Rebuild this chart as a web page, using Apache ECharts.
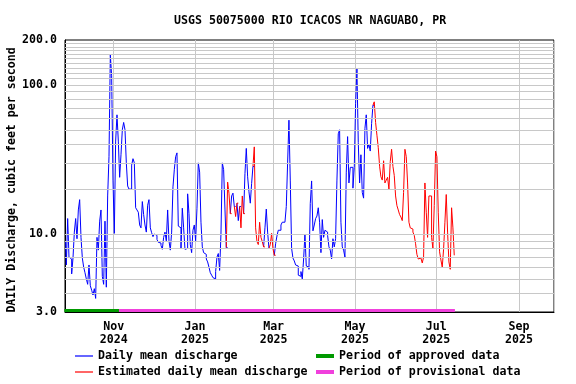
<!DOCTYPE html>
<html><head><meta charset="utf-8">
<script src="https://cdn.jsdelivr.net/npm/echarts@6/dist/echarts.min.js"></script>
<style>html,body{margin:0;padding:0;background:#fff}#c{width:576px;height:384px}</style>
</head><body><div id="c"></div>
<script>
const titleText = 'USGS 50075000 RIO ICACOS NR NAGUABO, PR';
const yAxisTitle = 'DAILY Discharge, cubic feet per second';
const startDate = [2024, 8, 26]; // first daily value: 2024-09-26
const discharge = [
 9.0,6.2,12.7,7.0,6.8,5.4,6.9,10.3,12.7,9.3,
 14.5,17.0,9.5,6.9,6.0,5.5,5.0,4.6,6.2,4.5,
 4.2,3.9,4.3,3.7,9.5,7.8,12.2,14.5,5.2,4.6,
 12.2,4.4,18,33,159,115,23,10.1,42,63,
 42,24,34,50,56,50,30,21,20,20,
 29,32,30,15,14.5,14,11.5,11.0,16.5,13.5,
 11.5,10.3,15.6,17,11,10.2,9.6,10,9.8,9.2,
 8.8,8.7,8.4,7.9,9.5,10.3,9.0,14.5,9.0,7.8,
 10.3,20.7,27,33,35,11.3,11,8.0,14.9,11,
 7.9,8,18.6,13.7,8.5,7.5,10.6,11.5,9.0,14.9,
 30,26,12,8.2,7.5,7.3,6.8,6.5,6.0,5.5,
 5.3,5.1,5.0,5.6,7.0,7.4,5.7,10,30,27,
 14.7,8.1,22.3,18.8,13.7,18.0,18.8,15.3,13.1,16.1,
 12.3,15.3,11.0,18.0,13.7,25.4,37.5,24.2,19.2,16.1,
 21.8,28.4,38.4,11.0,8.9,8.5,12.0,9.5,8.9,8.2,
 11.0,14.7,10.3,8.0,8.5,10.1,8.0,7.2,8.6,9.7,
 10.6,10.6,11.5,12.0,12.0,12.3,15.3,30,58,22.7,
 8.0,6.9,6.6,6.2,6.1,5.3,5.2,5.6,5.0,6.8,
 10,6.1,6.0,5.8,16,22.7,10.5,11.5,12.7,13.2,
 15,12,7.5,12.5,9.5,10.6,10.3,9.8,8.2,7.8,
 6.8,9.3,8.2,9.3,23,47,50,12,8.2,7.8,
 7.0,26,45,22,28,28,20.3,28,75,128,
 41,22,34,19,17.4,51,63,37.5,40,36,
 55,73,77,56,46,38,28.5,24.2,23,31,
 22,23,24,20,30.6,37,28.4,24.7,18,15.5,
 14.5,13.5,13.0,12.3,19,37,33,22,12,11.0,
 10.8,10.3,9.8,8.6,7.3,6.8,6.9,6.7,6.4,7.0,
 22,14,9.5,18,18,9.5,8.0,15.5,36,33,
 14,7.6,6.7,6.0,7.9,12,18.4,10.3,6.5,5.8,
 15,11,7.2
];
const estimatedRanges = [[121,124],[127,129],[131,134],[141,149],[153,157],[231,292]];
const approvedPeriod = ['2024-09-25', '2024-11-05'];
const provisionalPeriod = ['2024-11-05', '2025-07-15'];
const periodLevel = 3.07;
const yTickLabels = [3, 10, 100, 200];
const gridValues = [4,5,6,7,8,9,10,20,30,40,50,60,70,80,90,100,110,120,130,140,150,160,170,180,190];
const xRange = ['2024-09-25 12:00', '2025-09-27 08:00'];
const yRange = [3, 200];
const monthNames = ['Jan','Feb','Mar','Apr','May','Jun','Jul','Aug','Sep','Oct','Nov','Dec'];
const legendLeftNames = ['Daily mean discharge', 'Estimated daily mean discharge'];
const legendRightNames = ['Period of approved data', 'Period of provisional data'];

const FONT = '"DejaVu Sans Mono", monospace';
const FS = 11.6;

function isEst(i) {
  if (i < 0 || i >= discharge.length) return true;
  return estimatedRanges.some(r => i >= r[0] && i <= r[1]);
}
const dates = discharge.map((v, i) => new Date(startDate[0], startDate[1], startDate[2] + i).getTime());
const blueData = discharge.map((v, i) => {
  const show = !isEst(i) || !isEst(i - 1) || !isEst(i + 1);
  return [dates[i], show ? v : null];
});
const redData = discharge.map((v, i) => [dates[i], isEst(i) ? v : null]);

const chart = echarts.init(document.getElementById('c'), null, {renderer: 'canvas'});
chart.setOption({
  animation: false,
  backgroundColor: '#fff',
  textStyle: {fontFamily: FONT, fontWeight: 'bold'},
  title: {
    text: titleText, left: 169, top: 10,
    textStyle: {fontFamily: FONT, fontSize: FS, fontWeight: 'bold', color: '#000'}
  },
  grid: {left: 65, right: 22, top: 40, bottom: 72, show: true, borderColor: '#000', borderWidth: 1, containLabel: false},
  graphic: [{
    type: 'text', x: 12, y: 180, rotation: Math.PI / 2,
    style: {text: yAxisTitle, font: 'bold ' + FS + 'px ' + FONT, fill: '#000', align: 'center', verticalAlign: 'middle'}
  }],
  legend: [{
    orient: 'vertical', left: 75, top: 350, padding: 0, itemGap: 4,
    itemWidth: 18, itemHeight: 1.2, icon: 'rect',
    data: legendLeftNames,
    textStyle: {fontFamily: FONT, fontSize: FS, fontWeight: 'bold', color: '#000'}
  }, {
    orient: 'vertical', left: 316, top: 350, padding: 0, itemGap: 4,
    itemWidth: 18, itemHeight: 4, icon: 'rect',
    data: legendRightNames,
    textStyle: {fontFamily: FONT, fontSize: FS, fontWeight: 'bold', color: '#000'}
  }],
  xAxis: {
    type: 'time',
    min: new Date(xRange[0].replace(' ', 'T')).getTime(),
    max: new Date(xRange[1].replace(' ', 'T')).getTime(),
    minInterval: 65 * 86400000, maxInterval: 65 * 86400000,
    axisLine: {show: true, lineStyle: {color: '#000', width: 1}},
    axisTick: {show: false},
    splitLine: {show: true, lineStyle: {color: '#c8c8c8', width: 1}},
    axisLabel: {
      margin: 8, color: '#000', fontFamily: FONT, fontSize: FS, fontWeight: 'bold', lineHeight: 13,
      showMinLabel: false, showMaxLabel: false,
      formatter: function (val) {
        const d = new Date(val);
        if (d.getDate() !== 1 || d.getHours() !== 0) return '';
        return monthNames[d.getMonth()] + '\n' + d.getFullYear();
      }
    }
  },
  yAxis: {
    type: 'log', logBase: 10, min: yRange[0], max: yRange[1],
    axisLine: {show: true, lineStyle: {color: '#000', width: 1}},
    axisTick: {show: false},
    splitLine: {show: false},
    axisLabel: {
      margin: 8, color: '#000', fontFamily: FONT, fontSize: FS, fontWeight: 'bold',
      showMinLabel: true, showMaxLabel: true,
      formatter: function (v) {
        const hit = yTickLabels.find(t => Math.abs(t - v) / t < 1e-6);
        return hit !== undefined ? hit.toFixed(1) : '';
      }
    }
  },
  series: [
    {
      name: 'grid', type: 'line', data: [], silent: true, z: 1,
      markLine: {
        silent: true, symbol: ['none', 'none'], animation: false,
        label: {show: false},
        lineStyle: {color: '#c8c8c8', type: 'solid', width: 1},
        emphasis: {disabled: true},
        data: gridValues.map(v => ({yAxis: v}))
      }
    },
    {
      name: legendLeftNames[0], type: 'line', data: blueData, showSymbol: false, connectNulls: false,
      step: 'middle',
      color: '#0000ff', lineStyle: {color: '#0000ff', width: 1}, z: 3
    },
    {
      name: legendLeftNames[1], type: 'line', data: redData, showSymbol: false, connectNulls: false,
      step: 'middle',
      color: '#ff0000', lineStyle: {color: '#ff0000', width: 1}, z: 3
    },
    {
      name: legendRightNames[0], type: 'line', showSymbol: false, clip: false,
      data: approvedPeriod.map(s => [new Date(s + 'T00:00').getTime(), periodLevel]),
      color: '#009900', lineStyle: {color: '#009900', width: 3}, z: 4
    },
    {
      name: legendRightNames[1], type: 'line', showSymbol: false, clip: false,
      data: provisionalPeriod.map(s => [new Date(s + 'T00:00').getTime(), periodLevel]),
      color: '#f040dc', lineStyle: {color: '#f040dc', width: 3}, z: 4
    }
  ]
});
</script></body></html>
